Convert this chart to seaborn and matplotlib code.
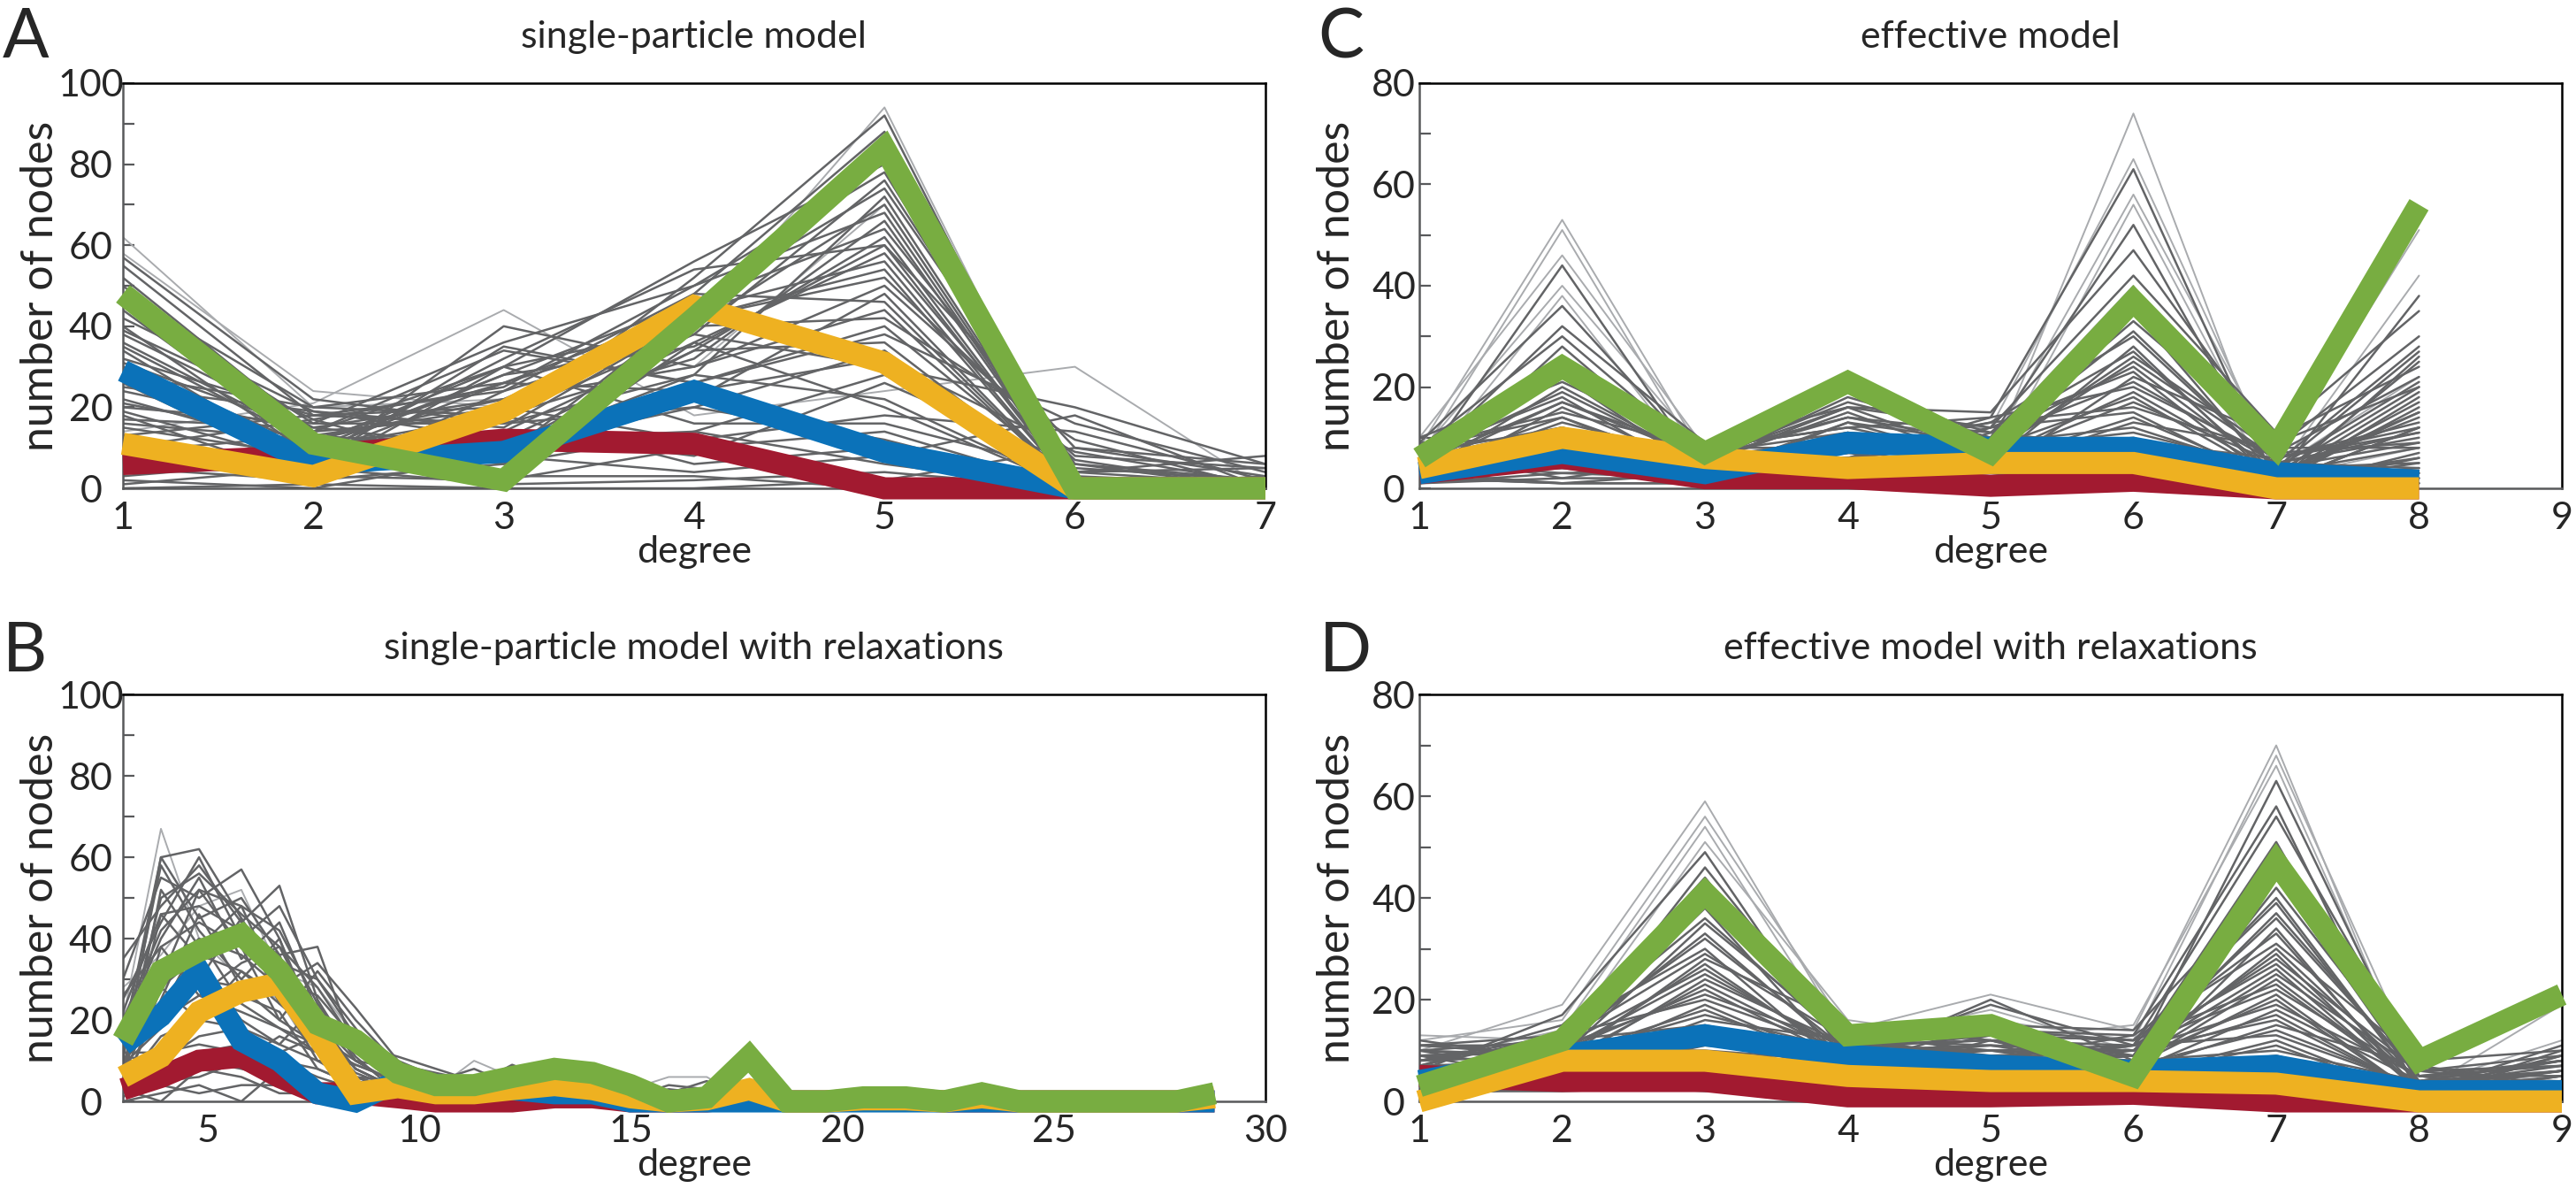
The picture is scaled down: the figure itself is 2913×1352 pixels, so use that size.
import matplotlib
matplotlib.use("Agg")
import matplotlib.pyplot as plt
import numpy as np
import pandas as pd
import seaborn as sns

# ---------------- data ----------------
deg_A = [1, 2, 3, 4, 5, 6, 7]
gray_A = [
    [62, 20, 22, 30, 70, 0, 0],
    [58, 24, 20, 40, 94, 0, 0],
    [57, 22, 16, 52, 92, 0, 0],
    [55, 18, 24, 48, 88, 2, 0],
    [52, 14, 30, 56, 80, 0, 0],
    [50, 12, 26, 44, 85, 0, 0],
    [48, 20, 18, 38, 76, 4, 1],
    [46, 16, 36, 50, 68, 0, 0],
    [44, 10, 28, 46, 74, 6, 2],
    [42, 19, 12, 34, 62, 0, 0],
    [40, 8, 32, 54, 60, 10, 3],
    [38, 15, 22, 42, 54, 0, 0],
    [36, 12, 14, 36, 58, 2, 0],
    [34, 6, 40, 30, 50, 8, 5],
    [32, 18, 20, 48, 46, 0, 0],
    [30, 10, 10, 28, 72, 0, 0],
    [28, 20, 26, 40, 42, 12, 0],
    [26, 4, 18, 32, 66, 0, 0],
    [24, 14, 34, 26, 38, 16, 4],
    [22, 9, 8, 44, 56, 0, 0],
    [20, 16, 16, 20, 34, 0, 0],
    [18, 2, 24, 38, 30, 20, 6],
    [16, 12, 6, 22, 48, 0, 0],
    [14, 21, 44, 18, 24, 30, 0],
    [12, 5, 12, 14, 28, 4, 8],
    [10, 17, 4, 36, 20, 0, 0],
    [8, 7, 20, 12, 18, 14, 2],
    [6, 3, 2, 10, 14, 0, 0],
    [4, 11, 14, 8, 26, 6, 0],
    [2, 0, 8, 4, 8, 18, 0],
    [1, 5, 1, 2, 4, 0, 0],
    [0, 1, 0, 0, 2, 10, 6],
    [45, 13, 20, 45, 82, 0, 0],
    [39, 17, 25, 50, 78, 3, 1],
    [35, 11, 30, 40, 70, 0, 0],
    [31, 14, 18, 46, 64, 5, 2],
    [27, 9, 28, 35, 60, 0, 0],
    [25, 19, 15, 42, 52, 7, 0],
    [21, 12, 22, 30, 44, 0, 3],
    [19, 6, 35, 26, 40, 2, 0],
    [17, 15, 10, 34, 36, 0, 0],
    [15, 8, 26, 24, 32, 9, 1],
    [13, 18, 16, 28, 22, 0, 0],
    [11, 4, 30, 16, 16, 4, 5],
    [9, 13, 10, 20, 12, 0, 0],
    [7, 10, 18, 6, 10, 2, 0],
    [5, 2, 6, 14, 6, 0, 2],
    [3, 7, 3, 3, 0, 0, 0],
]
light_A = [0, 1, 23]
red_A = [6, 8, 12, 11, 0, 0, 0]
blue_A = [29, 6, 9, 24, 9, 0, 0]
yellow_A = [11, 3, 19, 45, 31, 0, 0]
green_A = [48, 11, 2, 42, 84, 0, 0]

# panel B: vertex positions as they sit on the degree axis
deg_B = [3.0, 3.9, 4.8, 5.8, 6.7, 7.6, 8.5, 9.5, 10.4, 11.3, 12.2, 13.2, 14.1, 15.0,
         15.9, 16.8, 17.8, 18.7, 19.6, 20.5, 21.5, 22.4, 23.3, 24.2, 25.2, 26.1,
         27.0, 27.9, 28.8]
gray_B = [
    [20, 67, 40, 30, 25, 10, 4, 2, 1, 0, 1, 0, 0, 0, 1, 0, 0],
    [15, 60, 62, 45, 30, 20, 8, 3, 2, 1, 0, 1, 0, 0, 0, 0, 0],
    [30, 55, 50, 57, 40, 15, 6, 5, 3, 4, 2, 1, 0, 0, 2, 1, 0],
    [35, 48, 58, 44, 53, 25, 10, 8, 4, 2, 3, 2, 1, 0, 0, 0, 0],
    [10, 60, 45, 50, 36, 38, 12, 6, 5, 3, 1, 0, 2, 1, 3, 2, 0],
    [25, 44, 60, 40, 48, 30, 18, 4, 2, 6, 4, 3, 1, 0, 0, 0, 0],
    [5, 52, 38, 48, 28, 34, 23, 10, 6, 4, 9, 5, 3, 0, 1, 0, 0],
    [18, 40, 55, 35, 44, 22, 14, 11, 8, 5, 3, 8, 4, 2, 0, 1, 0],
    [28, 36, 48, 52, 32, 28, 16, 7, 3, 10, 6, 4, 7, 3, 6, 6, 0],
    [12, 58, 42, 30, 40, 18, 8, 3, 1, 2, 5, 2, 0, 0, 0, 0, 0],
    [8, 30, 52, 38, 20, 32, 20, 9, 7, 5, 2, 6, 2, 1, 4, 3, 0],
    [22, 46, 35, 42, 36, 12, 5, 2, 0, 1, 0, 0, 0, 0, 0, 0, 0],
    [3, 25, 46, 28, 30, 26, 15, 6, 4, 3, 7, 3, 1, 0, 2, 5, 0],
    [16, 34, 30, 45, 24, 16, 10, 4, 2, 0, 1, 2, 0, 0, 0, 0, 0],
    [6, 38, 26, 34, 38, 20, 12, 7, 5, 8, 4, 1, 0, 0, 1, 0, 0],
    [14, 22, 40, 24, 18, 14, 6, 3, 1, 2, 0, 0, 0, 0, 0, 0, 0],
    [2, 28, 20, 32, 26, 10, 9, 5, 3, 1, 2, 4, 2, 1, 0, 0, 0],
    [9, 18, 34, 20, 14, 24, 11, 2, 0, 0, 1, 0, 0, 0, 0, 0, 0],
    [4, 14, 24, 26, 22, 8, 4, 1, 1, 3, 0, 0, 1, 0, 0, 0, 0],
    [11, 10, 16, 18, 12, 16, 7, 3, 2, 1, 2, 1, 0, 0, 0, 0, 0],
    [1, 8, 12, 14, 10, 6, 3, 1, 0, 0, 0, 0, 0, 0, 0, 0, 0],
    [7, 5, 6, 10, 16, 12, 5, 2, 1, 2, 1, 0, 0, 0, 0, 0, 0],
    [0, 2, 4, 0, 8, 4, 2, 0, 0, 0, 0, 0, 0, 0, 0, 0, 0],
    [3, 0, 8, 6, 2, 2, 1, 0, 1, 0, 0, 0, 0, 0, 0, 0, 0],
    [12, 50, 56, 46, 38, 28, 14, 6, 3, 2, 1, 1, 0, 0, 0, 0, 0],
    [20, 42, 52, 48, 42, 24, 12, 5, 2, 3, 2, 0, 1, 0, 0, 0, 0],
    [8, 46, 48, 42, 34, 30, 16, 8, 4, 1, 3, 2, 0, 0, 1, 0, 0],
    [26, 38, 44, 38, 30, 20, 10, 4, 1, 2, 1, 1, 0, 0, 0, 0, 0],
    [14, 32, 40, 36, 28, 18, 8, 3, 2, 1, 0, 0, 0, 0, 0, 0, 0],
    [6, 28, 36, 32, 24, 22, 12, 6, 3, 2, 2, 1, 1, 0, 0, 0, 0],
    [18, 24, 30, 28, 20, 14, 9, 5, 2, 1, 1, 0, 0, 0, 0, 0, 0],
    [10, 20, 26, 22, 18, 12, 6, 2, 1, 0, 0, 0, 0, 0, 0, 0, 0],
    [4, 16, 20, 18, 14, 10, 5, 3, 1, 1, 0, 0, 0, 0, 0, 0, 0],
    [12, 12, 14, 12, 10, 8, 4, 1, 0, 0, 0, 0, 0, 0, 0, 0, 0],
    [2, 6, 10, 8, 6, 4, 2, 1, 0, 0, 0, 0, 0, 0, 0, 0, 0],
    [8, 4, 2, 4, 4, 2, 1, 0, 0, 0, 0, 0, 0, 0, 0, 0, 0],
]
light_B = [0, 8]
red_B = [3, 6, 10, 11, 6, 2, 2, 1, 0, 0, 0, 1, 1, 0, 0, 0, 1, 0, 0, 0.5, 0.5,
         0, 0, 0, 0, 0, 0, 0, 0]
blue_B = [14, 21, 32, 15, 10, 2, 0, 5, 4, 3, 3, 2, 2, 0, 0, 0, 0, 0, 0, 0, 0,
          0, 0, 0, 0, 0, 0, 0, 0]
yellow_B = [6, 11, 22, 27, 29, 16, 2, 3.5, 2, 2, 3, 4, 3, 1, 0, 0.5, 3, 0, 0, 0.5,
            0.5, 0, 1, 0, 0, 0, 0, 0, 1]
green_B = [15, 32, 37, 41, 32, 19, 15, 7, 4, 4, 6, 8, 7, 4, 0, 1, 11, 0, 0, 1, 1,
           0, 2, 0, 0, 0, 0, 0, 2]

deg_C = [1, 2, 3, 4, 5, 6, 7, 8]
gray_C = [
    [8, 53, 6, 4, 10, 40, 2, 8],
    [6, 51, 4, 8, 6, 74, 0, 2],
    [10, 46, 8, 12, 12, 65, 4, 22],
    [4, 44, 3, 6, 14, 63, 1, 12],
    [7, 40, 7, 14, 8, 58, 6, 51],
    [3, 38, 2, 10, 4, 56, 3, 42],
    [9, 36, 5, 18, 10, 52, 2, 38],
    [5, 32, 9, 16, 15, 47, 8, 30],
    [8, 30, 6, 6, 12, 42, 11, 35],
    [2, 28, 4, 9, 6, 38, 5, 28],
    [6, 26, 7, 19, 11, 35, 2, 25],
    [4, 22, 3, 13, 9, 33, 9, 20],
    [10, 21, 8, 8, 13, 30, 4, 27],
    [3, 20, 5, 15, 5, 28, 1, 18],
    [7, 18, 2, 11, 7, 26, 7, 22],
    [5, 17, 6, 17, 10, 24, 3, 15],
    [1, 16, 4, 5, 3, 22, 10, 24],
    [8, 15, 8, 12, 14, 20, 6, 12],
    [4, 14, 3, 7, 8, 18, 2, 19],
    [6, 12, 5, 16, 6, 17, 5, 10],
    [2, 11, 7, 3, 12, 15, 1, 16],
    [9, 10, 4, 10, 4, 13, 8, 8],
    [5, 9, 6, 14, 9, 12, 3, 14],
    [3, 8, 2, 4, 7, 10, 0, 6],
    [7, 7, 5, 9, 5, 9, 6, 11],
    [4, 6, 3, 2, 11, 8, 2, 4],
    [6, 5, 7, 6, 3, 6, 4, 9],
    [2, 4, 1, 1, 6, 5, 1, 3],
    [5, 3, 4, 8, 2, 4, 0, 7],
    [1, 2, 2, 3, 4, 2, 3, 1],
    [3, 1, 1, 0, 1, 1, 0, 2],
    [2, 1, 3, 2, 8, 0, 1, 5],
    [6, 19, 5, 11, 9, 31, 4, 21],
    [4, 17, 7, 14, 11, 27, 2, 17],
    [8, 14, 4, 9, 7, 25, 6, 13],
    [3, 13, 6, 16, 12, 23, 1, 26],
    [7, 12, 3, 8, 10, 21, 5, 11],
    [5, 11, 8, 12, 6, 19, 3, 20],
    [9, 10, 5, 7, 13, 16, 7, 9],
    [2, 9, 2, 13, 5, 14, 2, 15],
    [6, 8, 6, 10, 8, 11, 4, 5],
    [4, 7, 4, 6, 9, 9, 1, 12],
    [8, 6, 7, 11, 4, 7, 3, 8],
    [3, 5, 3, 5, 7, 5, 0, 3],
    [5, 4, 5, 7, 3, 3, 2, 6],
    [1, 3, 2, 2, 5, 2, 1, 2],
    [7, 2, 6, 4, 2, 1, 5, 4],
    [2, 1, 1, 1, 3, 0, 0, 1],
]
light_C = [0, 1, 2, 4, 5]
red_C = [3, 6, 2, 2, 0.5, 1.5, 0, 0]
blue_C = [3, 7, 3, 9, 8, 8, 3, 1.5]
yellow_C = [4, 10, 6, 4, 5, 5, 0, 0]
green_C = [6, 24, 7, 21, 7, 37, 8, 56]

deg_D = [1, 2, 3, 4, 5, 6, 7, 8, 9]
gray_D = [
    [10, 19, 59, 12, 18, 10, 45, 4, 6],
    [12, 16, 56, 14, 21, 14, 70, 2, 19],
    [8, 14, 54, 10, 16, 12, 68, 6, 4],
    [13, 12, 51, 16, 12, 15, 66, 3, 12],
    [6, 17, 49, 8, 20, 8, 63, 5, 8],
    [9, 10, 46, 11, 14, 13, 58, 1, 10],
    [11, 13, 44, 9, 19, 11, 56, 7, 3],
    [7, 15, 40, 13, 10, 9, 51, 2, 11],
    [5, 11, 38, 7, 15, 14, 44, 4, 6],
    [10, 9, 35, 12, 11, 7, 42, 6, 9],
    [8, 12, 32, 10, 13, 12, 39, 3, 2],
    [4, 14, 30, 6, 9, 10, 36, 5, 7],
    [12, 8, 28, 15, 12, 6, 34, 1, 5],
    [6, 11, 26, 9, 8, 13, 31, 8, 10],
    [9, 7, 24, 11, 14, 9, 29, 2, 4],
    [3, 10, 22, 8, 10, 11, 27, 4, 8],
    [7, 13, 20, 10, 7, 8, 25, 6, 3],
    [11, 9, 18, 7, 13, 12, 23, 3, 6],
    [5, 6, 16, 12, 9, 7, 21, 1, 9],
    [8, 12, 15, 9, 11, 10, 19, 5, 2],
    [2, 8, 13, 6, 6, 9, 17, 2, 5],
    [10, 5, 12, 11, 10, 6, 15, 7, 1],
    [6, 10, 10, 8, 8, 11, 13, 3, 7],
    [4, 7, 9, 5, 12, 5, 11, 1, 4],
    [9, 4, 8, 10, 5, 8, 10, 4, 2],
    [3, 9, 7, 7, 9, 4, 8, 2, 6],
    [7, 6, 6, 4, 7, 7, 7, 0, 1],
    [1, 3, 5, 9, 4, 3, 6, 3, 3],
    [5, 8, 4, 6, 6, 2, 5, 1, 0],
    [2, 2, 3, 3, 3, 5, 4, 0, 2],
    [0, 4, 2, 2, 2, 1, 3, 2, 0],
    [4, 3, 6, 5, 5, 4, 2, 1, 1],
    [8, 13, 36, 11, 12, 11, 40, 3, 8],
    [6, 11, 33, 9, 10, 9, 37, 5, 5],
    [10, 12, 29, 12, 14, 12, 33, 2, 9],
    [5, 9, 27, 8, 9, 8, 30, 4, 3],
    [9, 10, 25, 10, 11, 10, 28, 6, 7],
    [7, 8, 23, 9, 8, 9, 26, 2, 4],
    [11, 11, 21, 11, 12, 7, 24, 3, 6],
    [4, 7, 19, 7, 7, 11, 22, 5, 2],
    [8, 9, 17, 10, 10, 8, 20, 1, 5],
    [6, 6, 14, 8, 9, 6, 18, 4, 8],
    [10, 8, 12, 6, 7, 10, 16, 2, 3],
    [3, 5, 11, 9, 8, 7, 14, 3, 6],
    [7, 7, 9, 7, 6, 5, 12, 1, 2],
    [5, 4, 7, 5, 5, 6, 9, 2, 4],
    [2, 6, 5, 4, 4, 3, 7, 0, 1],
    [6, 3, 4, 3, 3, 2, 5, 1, 3],
]
light_D = [0, 1, 2, 3]
red_D = [5, 4, 4, 1, 1, 1.5, 0, 0, 0]
blue_D = [4, 9, 13, 9, 7, 6, 7, 2, 2]
yellow_D = [0, 8, 8, 5, 4, 4, 3.5, 0, 0]
green_D = [3, 12, 41, 13, 15, 5, 47, 8, 21]

# ---------------- style ----------------
sns.set_style("white")
plt.rcParams['font.family'] = ['Lato', 'DejaVu Sans']

DARK = "#636466"
LIGHT = "#a9abae"
RED = "#a21a30"
BLUE = "#0b72b9"
YELLOW = "#eeb121"
GREEN = "#78ad41"
AXGRAY = "#58595b"


def gray_frame(rows, deg):
	df = pd.DataFrame(rows, columns=deg[:len(rows[0])])
	df["run"] = range(len(rows))
	return df.melt(id_vars="run", var_name="degree", value_name="nodes")


def draw_panel(ax, deg, gray, light, red, blue, yellow, green):
	df = gray_frame(gray, deg)
	dark_df = df[~df["run"].isin(light)]
	light_df = df[df["run"].isin(light)]
	sns.lineplot(data=light_df, x="degree", y="nodes", units="run", estimator=None,
				 color=LIGHT, linewidth=1.4, legend=False, ax=ax, zorder=2)
	sns.lineplot(data=dark_df, x="degree", y="nodes", units="run", estimator=None,
				 color=DARK, linewidth=1.8, legend=False, ax=ax, zorder=2)
	for vals, col, z in [(red, RED, 4), (blue, BLUE, 5), (yellow, YELLOW, 6), (green, GREEN, 7)]:
		sns.lineplot(x=deg[:len(vals)], y=vals, color=col, linewidth=18, ax=ax,
					 solid_capstyle="butt", solid_joinstyle="miter", clip_on=False, zorder=z)


def format_axes(ax, xlim, ylim, xticks, title, ytick_pad):
	ax.set_xlim(xlim)
	ax.set_ylim(ylim)
	ax.set_xticks(xticks)
	ax.set_yticks(np.arange(0, ylim[1] + 1, 20))
	ax.set_yticks(np.arange(10, ylim[1], 20), minor=True)
	ax.tick_params(axis="y", which="both", direction="in", length=9.5, width=1.6,
				   color=AXGRAY, labelsize=31, pad=ytick_pad, left=True)
	ax.tick_params(axis="x", length=0, labelsize=31, pad=11)
	for lab in ax.get_yticklabels():
		lab.set_horizontalalignment("center")
	for side in ["left", "bottom"]:
		ax.spines[side].set_color(AXGRAY)
		ax.spines[side].set_linewidth(1.8)
	for side in ["top", "right"]:
		ax.spines[side].set_color("black")
		ax.spines[side].set_linewidth(1.8)
	ax.set_title(title, fontsize=31, pad=29)
	ax.set_xlabel("degree", fontsize=31, labelpad=0)
	ax.set_ylabel("number of nodes", fontsize=36)
	ax.yaxis.set_label_coords(-0.054, 0.5)
	ax.grid(False)
	return ax


fig = plt.figure(figsize=(29.13, 13.52), dpi=100)
axA = fig.add_axes([0.0477, 0.5917, 0.4435, 0.3388])
axB = fig.add_axes([0.0477, 0.0791, 0.4435, 0.3402])
axC = fig.add_axes([0.5510, 0.5917, 0.4435, 0.3388])
axD = fig.add_axes([0.5510, 0.0791, 0.4435, 0.3402])

draw_panel(axA, deg_A, gray_A, light_A, red_A, blue_A, yellow_A, green_A)
draw_panel(axB, deg_B, gray_B, light_B, red_B, blue_B, yellow_B, green_B)
draw_panel(axC, deg_C, gray_C, light_C, red_C, blue_C, yellow_C, green_C)
draw_panel(axD, deg_D, gray_D, light_D, red_D, blue_D, yellow_D, green_D)

format_axes(axA, (1, 7), (0, 100), range(1, 8), "single-particle model", 26)
format_axes(axB, (3, 30), (0, 100), range(5, 31, 5), "single-particle model with relaxations", 26)
format_axes(axC, (1, 9), (0, 80), range(1, 10), "effective model", 21)
format_axes(axD, (1, 9), (0, 80), range(1, 10), "effective model with relaxations", 21)

for x, y, s in [(0.001, 0.9519, "A"), (0.5115, 0.9519, "C"),
				(0.001, 0.4386, "B"), (0.5122, 0.4386, "D")]:
	fig.text(x, y, s, fontsize=56, va="baseline", ha="left")

plt.savefig("out.png", dpi=100)
